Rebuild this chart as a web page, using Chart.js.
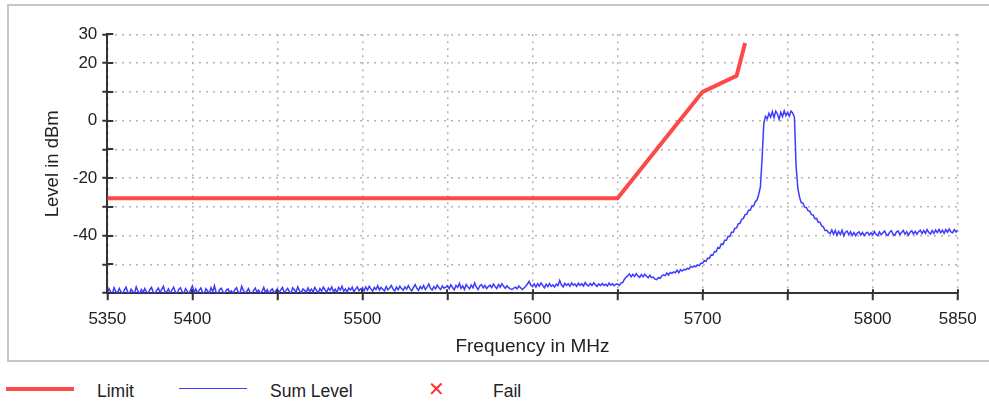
<!DOCTYPE html>
<html>
<head>
<meta charset="utf-8">
<script src="https://cdn.jsdelivr.net/npm/chart.js@4/dist/chart.umd.min.js"></script>
<style>
  html,body{margin:0;padding:0;background:#fff;}
  body{width:989px;height:401px;position:relative;overflow:hidden;font-family:"Liberation Sans",Arial,sans-serif;color:#222;}
  #frame{position:absolute;left:7px;top:4px;width:990px;height:354px;border:2px solid #c8c8c8;border-right:none;}
  #wrap{position:absolute;left:0;top:0;width:989px;height:360px;}
  .lg{position:absolute;font-size:17.5px;line-height:20px;top:381px;white-space:nowrap;}
  .sw{position:absolute;}
</style>
</head>
<body>
<div id="frame"></div>
<div id="wrap"><canvas id="c" width="989" height="360"></canvas></div>
<div class="sw" style="left:6px;top:386.5px;width:68px;height:4px;background:#ff4848;"></div>
<div class="lg" style="left:97px;">Limit</div>
<div class="sw" style="left:179px;top:387.5px;width:68px;height:1.5px;background:#3c3cff;"></div>
<div class="lg" style="left:270px;">Sum Level</div>
<div class="lg" style="left:428px;top:379px;color:#ff3030;font-size:20px;">✕</div>
<div class="lg" style="left:493px;">Fail</div>
<script>
// ---- data ----
const limitFreq  = [5350, 5650, 5700, 5720, 5725, 5726, 5850, 5855];
const limitLevel = [-27,  -27,  10,   15.6, 27,   null, 27,   15.6];

const sumStart = 5350;   // MHz, first sample
const sumStep  = 1;      // MHz between samples
const sumLevel = [
 -59.9,-58.4,-59.6,-60.2,-58.1,-59.4,-59.9,-58.3,-59.5,-60.3,-58.9,-57.9,-59.7,-60.1,-58.6,-59.5,-60.0,-57.8,-59.3,-60.2,-58.7,-59.8,-58.4,-59.5,-60.1,
 -58.8,-58.0,-59.7,-60.3,-59.0,-58.2,-59.8,-58.7,-57.6,-59.9,-59.4,-58.5,-60.1,-58.9,-57.9,-59.6,-60.2,-58.7,-58.1,-59.5,-60.0,-58.4,-59.3,-60.3,-58.8,
 -57.5,-59.7,-58.5,-60.0,-59.0,-58.2,-59.8,-60.2,-58.4,-59.3,-60.0,-58.1,-59.5,-57.4,-59.8,-60.3,-58.8,-58.3,-59.6,-60.2,-58.9,-58.5,-59.8,-59.2,-60.1,
 -58.8,-58.1,-59.7,-60.2,-57.6,-59.0,-60.0,-59.4,-58.4,-59.8,-60.3,-59.1,-58.2,-59.6,-58.9,-60.1,-59.4,-58.0,-59.8,-58.8,-60.2,-59.1,-58.5,-59.9,-59.3,
 -58.5,-59.7,-58.9,-58.0,-59.8,-59.1,-58.3,-59.4,-60.1,-58.1,-58.8,-59.6,-57.8,-59.2,-59.9,-58.5,-59.0,-59.8,-58.2,-59.4,-58.6,-59.6,-58.0,-59.0,-59.8,
 -58.4,-59.3,-57.9,-58.8,-59.7,-58.2,-59.0,-57.8,-59.5,-58.6,-59.8,-58.0,-58.9,-57.6,-59.3,-58.5,-59.6,-58.2,-58.9,-57.9,-59.5,-58.6,-57.8,-59.1,-58.5,
 -58.2,-59.2,-57.8,-58.9,-57.6,-58.5,-59.3,-58.0,-58.7,-57.4,-58.9,-58.0,-58.6,-59.2,-57.7,-58.8,-58.2,-57.3,-58.6,-59.2,-57.9,-58.8,-57.6,-58.4,-59.0,
 -57.8,-58.6,-57.4,-58.5,-59.2,-58.0,-57.0,-58.3,-59.0,-57.7,-58.5,-57.3,-58.7,-57.9,-56.8,-58.3,-58.9,-57.7,-58.5,-57.2,-58.1,-58.7,-57.5,-58.3,-57.9,
 -57.4,-58.4,-57.1,-58.0,-58.8,-57.3,-58.0,-56.6,-58.3,-57.5,-58.7,-57.0,-57.8,-58.5,-57.2,-58.1,-56.4,-57.9,-58.7,-57.5,-57.0,-58.1,-57.3,-58.4,-57.7,
 -57.2,-58.1,-56.8,-57.7,-58.4,-57.0,-57.9,-56.7,-57.6,-58.3,-57.4,-58.1,-58.5,-58.7,-58.2,-57.9,-58.5,-57.5,-58.1,-58.7,-58.2,-57.6,-56.8,-55.9,-57.2,
 -57.6,-56.8,-57.9,-56.7,-57.5,-56.4,-57.3,-58.1,-56.9,-57.7,-56.6,-57.6,-57.1,-57.9,-56.8,-57.4,-55.6,-57.1,-57.8,-56.6,-57.3,-56.7,-57.6,-56.4,-57.2,
 -56.8,-57.6,-56.5,-57.3,-56.7,-57.5,-56.3,-57.1,-57.5,-56.6,-57.3,-56.4,-57.1,-57.6,-56.8,-57.4,-56.6,-57.3,-56.9,-57.5,-56.5,-57.2,-56.7,-57.4,-56.9,
 -56.8,-57.3,-56.5,-56.3,-55.2,-54.5,-53.9,-53.3,-54.3,-53.4,-54.2,-53.2,-54.0,-54.5,-53.5,-54.3,-53.4,-54.1,-54.6,-53.8,-54.6,-54.4,-55.1,-55.3,-54.6,
 -54.8,-54.0,-53.6,-53.9,-53.0,-53.7,-52.8,-53.1,-52.6,-52.9,-52.0,-52.9,-51.8,-52.3,-51.7,-51.9,-51.4,-51.6,-50.7,-51.0,-50.5,-50.8,-50.2,-50.4,-49.6,
 -49.6,-48.7,-48.9,-47.8,-47.9,-46.7,-46.8,-45.5,-45.6,-44.1,-44.4,-42.9,-43.1,-41.6,-41.6,-40.2,-40.3,-38.8,-38.8,-37.4,-37.3,-35.9,-35.7,-34.3,-34.0,
 -32.7,-32.5,-31.2,-31.2,-29.7,-29.7,-28.2,-27.6,-25.7,-23.0,-13.0,-1.0,1.5,0.6,2.5,1.2,3.1,1.0,3.3,2.3,0.4,2.9,1.4,3.4,1.7,
 2.8,1.5,3.3,2.6,1.2,-16.0,-23.5,-26.6,-28.5,-28.7,-30.1,-30.2,-31.3,-31.5,-32.7,-32.8,-34.1,-34.0,-35.3,-35.3,-36.6,-36.9,-38.2,-38.1,-38.9,
 -39.3,-38.0,-39.5,-38.2,-39.8,-38.5,-39.6,-38.1,-40.0,-38.8,-38.4,-39.7,-38.6,-39.9,-38.9,-40.0,-39.1,-38.7,-39.8,-38.9,-40.0,-39.2,-38.8,-39.8,-39.0,
 -39.7,-38.6,-39.6,-40.0,-38.7,-39.7,-39.0,-38.4,-39.6,-39.9,-38.8,-38.3,-39.5,-39.9,-38.7,-38.4,-39.6,-38.9,-38.2,-39.5,-38.6,-39.8,-38.8,-38.3,-39.4,
 -38.5,-39.5,-38.6,-38.1,-39.3,-38.2,-39.2,-37.9,-38.9,-39.4,-38.2,-39.2,-38.0,-38.9,-37.8,-39.0,-38.1,-39.2,-37.9,-38.8,-37.7,-38.7,-39.0,-37.9,-38.7,
 -38.0
];

const xTickLabels = [5350, 5400, 5500, 5600, 5700, 5800, 5850];
const yTickLabels = [30, 20, 0, -20, -40];

// ---- build datasets ----
const limitPts = limitFreq.map((f, i) => ({x: f, y: limitLevel[i]}));
const sumPts = sumLevel.map((v, i) => ({x: sumStart + i * sumStep, y: v}));

const AXIS = '#333';
const GRID = '#b4b4b4';

const innerTicks = {
  id: 'innerTicks',
  afterDraw(chart) {
    const ctx = chart.ctx, xs = chart.scales.x, ys = chart.scales.y;
    ctx.save();
    ctx.strokeStyle = AXIS;
    ctx.lineWidth = 2;
    ctx.beginPath();
    xs.ticks.forEach(t => {
      const p = Math.round(xs.getPixelForValue(t.value));
      ctx.moveTo(p, xs.top); ctx.lineTo(p, xs.top - 4);
    });
    ys.ticks.forEach(t => {
      const p = Math.round(ys.getPixelForValue(t.value));
      ctx.moveTo(ys.right, p); ctx.lineTo(ys.right + 6, p);
    });
    ctx.stroke();
    ctx.restore();
  }
};

new Chart(document.getElementById('c'), {
  type: 'line',
  data: {
    datasets: [
      {label: 'Limit', data: limitPts, borderColor: '#ff4848', borderWidth: 4,
       pointRadius: 0, spanGaps: false, tension: 0, order: 2},
      {label: 'Sum Level', data: sumPts, borderColor: '#3c3cff', borderWidth: 1.5,
       pointRadius: 0, tension: 0, order: 1}
    ]
  },
  options: {
    responsive: false,
    animation: false,
    devicePixelRatio: 1,
    layout: {padding: {left: 0, top: 34.3, right: 31.3, bottom: 0}},
    plugins: {legend: {display: false}, tooltip: {enabled: false}},
    scales: {
      x: {
        type: 'linear', min: 5350, max: 5850,
        afterFit: s => { s.height = 66.8; },
        ticks: {
          stepSize: 50, autoSkip: false, maxRotation: 0, padding: 9,
          color: '#222', font: {family: '"Liberation Sans", Arial', size: 17},
          callback: v => xTickLabels.includes(v) ? String(v) : ''
        },
        grid: {color: GRID, lineWidth: 1.5, tickColor: AXIS, tickWidth: 2, tickLength: 7, tickBorderDash: []},
        border: {color: AXIS, width: 2, dash: [2, 5]},
        title: {display: true, text: 'Frequency in MHz', color: '#222',
                font: {family: '"Liberation Sans", Arial', size: 19}, padding: {top: 0, bottom: 2}}
      },
      y: {
        type: 'linear', min: -60, max: 30,
        afterFit: s => { s.width = 107.3; },
        ticks: {
          stepSize: 10, autoSkip: false, padding: 5,
          color: '#222', font: {family: '"Liberation Sans", Arial', size: 17},
          callback: v => yTickLabels.includes(v) ? String(v) : ''
        },
        grid: {color: GRID, lineWidth: 1.5, tickColor: AXIS, tickWidth: 2, tickLength: 5, tickBorderDash: []},
        border: {color: AXIS, width: 2, dash: [2, 5]},
        title: {display: true, text: 'Level in dBm', color: '#222',
                font: {family: '"Liberation Sans", Arial', size: 18.5}, padding: {top: 42, bottom: 0}}
      }
    }
  },
  plugins: [innerTicks]
});
</script>
</body>
</html>
